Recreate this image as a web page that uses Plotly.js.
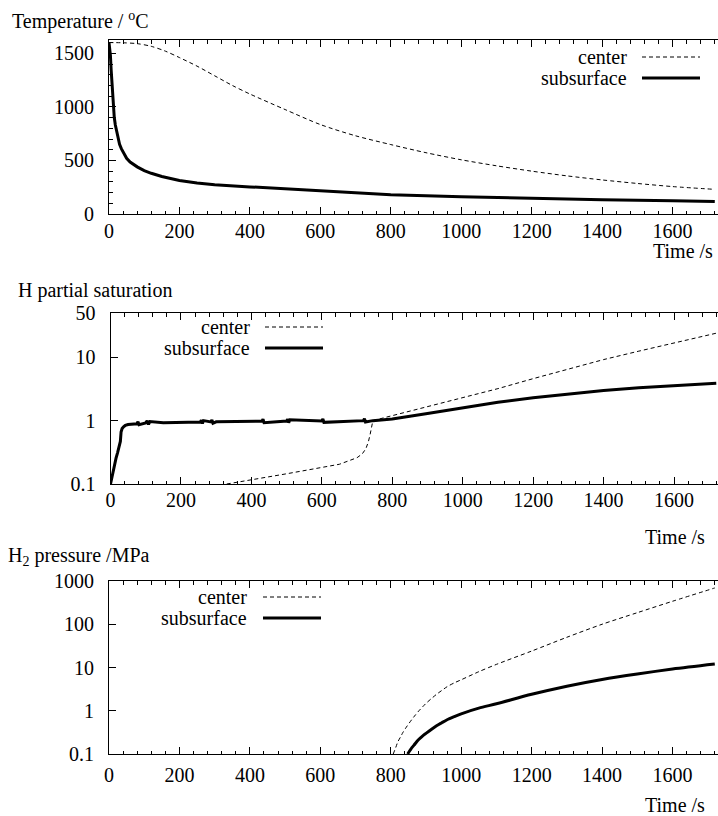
<!DOCTYPE html>
<html>
<head>
<meta charset="utf-8">
<script src="https://cdn.plot.ly/plotly-3.0.1.min.js"></script>
<style>html,body{margin:0;padding:0;background:#fff;}#chart{width:718px;height:816px;}</style>
</head>
<body>
<div id="chart"></div>
<script>
// ---- Data ----
const seriesNames = ["center", "subsurface"];

// Temperature / °C
const tempTimeCenter = [0,40,80,120,160,200,250,300,350,400,500,600,700,800,900,1000,1100,1200,1300,1400,1500,1600,1720];
const tempCenter = [1600,1598,1590,1565,1520,1460,1380,1290,1200,1120,975,835,730,648,572,506,450,400,356,318,285,256,230];
const tempTimeSub = [0,2,4,6,8,10,12,15,18,22,26,30,35,40,50,60,70,80,100,120,150,200,250,300,400,500,600,700,800,1000,1200,1400,1600,1720];
const tempSub = [1600,1550,1480,1350,1220,1100,1000,900,830,760,700,650,610,575,520,485,460,440,405,380,350,313,290,273,253,235,210,196,180,162,146,132,123,117];

// H partial saturation
const hTimeCenter = [330,400,450,500,550,600,650,700,715,725,732,737,741,745,800,900,1000,1100,1200,1300,1400,1500,1600,1720];
const hCenter = [0.1,0.118,0.13,0.145,0.163,0.18,0.205,0.26,0.3,0.36,0.46,0.6,0.78,1.0,1.2,1.65,2.3,3.2,4.6,6.5,9.2,12.5,17,24];
const hTimeSub = [0,4,8,12,16,20,24,26,28,30,33,37,42,50,60,75,78,81,100,104,108,112,150,200,255,258,261,264,285,288,291,300,400,430,433,436,500,503,506,509,600,603,606,700,718,721,724,745,800,900,1000,1100,1200,1300,1400,1500,1600,1720];
const hSub = [0.1,0.13,0.17,0.21,0.26,0.31,0.37,0.4,0.47,0.66,0.75,0.8,0.84,0.87,0.88,0.89,0.96,0.86,0.92,0.99,0.87,0.97,0.93,0.94,0.95,1.02,0.9,1.0,0.955,1.03,0.91,0.96,0.97,0.98,1.05,0.93,0.985,1.05,0.93,1.03,0.99,1.06,0.94,1.0,1.0,1.07,0.95,1.0,1.06,1.3,1.6,1.95,2.3,2.65,2.98,3.3,3.6,3.9];

// H2 pressure / MPa
const pTimeCenter = [807,814,820,828,835,847,860,870,880,890,900,915,930,945,960,980,1000,1050,1100,1200,1300,1400,1500,1600,1720];
const pCenter = [0.1,0.14,0.19,0.25,0.32,0.45,0.63,0.8,1.0,1.22,1.48,1.9,2.4,2.95,3.6,4.4,5.2,8.0,11.8,24,50,100,185,340,690];
const pTimeSub = [848,852,856,860,866,873,880,890,900,915,930,945,960,980,1000,1050,1100,1200,1300,1400,1500,1600,1720];
const pSub = [0.1,0.113,0.126,0.14,0.16,0.19,0.22,0.26,0.3,0.37,0.45,0.53,0.62,0.73,0.85,1.15,1.45,2.4,3.7,5.3,7.1,9.2,12];

// Tick labels
const xTicks = [0,200,400,600,800,1000,1200,1400,1600];
const tempTicks = [0,500,1000,1500];
const hTicks = [0.1,1,10,50];
const hTickText = ["0.1","1","10","50"];
const pTicks = [0.1,1,10,100,1000];
const pTickText = ["0.1","1","10","100","1000"];

// ---- Layout helpers ----
const W = 718, H = 816;
const FONT = '"Liberation Serif", "Times New Roman", serif';
const px = x => x / W;
const py = y => 1 - y / H;

const dashStyle = {color: "#000", width: 1, dash: "4px,3px"};
const solidStyle = {color: "#000", width: 3};
const dashSpline = Object.assign({}, dashStyle, {shape: "spline", smoothing: 0.8});
const solidSpline = Object.assign({}, solidStyle, {shape: "spline", smoothing: 0.8});

const traces = [
  {x: tempTimeCenter, y: tempCenter, xaxis: "x", yaxis: "y", mode: "lines", line: dashSpline, name: seriesNames[0]},
  {x: tempTimeSub, y: tempSub, xaxis: "x", yaxis: "y", mode: "lines", line: solidStyle, name: seriesNames[1]},
  {x: hTimeCenter, y: hCenter, xaxis: "x2", yaxis: "y2", mode: "lines", line: dashStyle, name: seriesNames[0]},
  {x: hTimeSub, y: hSub, xaxis: "x2", yaxis: "y2", mode: "lines", line: solidStyle, name: seriesNames[1]},
  {x: pTimeCenter, y: pCenter, xaxis: "x3", yaxis: "y3", mode: "lines", line: dashSpline, name: seriesNames[0]},
  {x: pTimeSub, y: pSub, xaxis: "x3", yaxis: "y3", mode: "lines", line: solidSpline, name: seriesNames[1]}
];

const tickFont = {family: FONT, size: 20, color: "#000"};
function xAxis(left, anchor, standoff) {
  return {
    domain: [px(left), 1], anchor: anchor, range: [0, (W - left) / 0.3522],
    tickvals: xTicks, ticks: "inside", ticklen: 7, tickwidth: 1, tickcolor: "#000",
    minor: {dtick: 40, tick0: 0, ticks: "inside", ticklen: 3.5, tickcolor: "#000", tickwidth: 1},
    showline: true, linecolor: "#000", linewidth: 1, mirror: "ticks",
    showgrid: false, zeroline: false, tickfont: tickFont, ticklabelstandoff: standoff
  };
}
function yBase(top, bottom, anchor) {
  return {
    domain: [py(bottom), py(top)], anchor: anchor,
    ticks: "inside", ticklen: 7, tickwidth: 1, tickcolor: "#000",
    showline: true, linecolor: "#000", linewidth: 1, mirror: false,
    showgrid: false, zeroline: false, tickfont: tickFont, ticklabelstandoff: 10
  };
}

const layout = {
  width: W, height: H, margin: {l: 0, r: 0, t: 0, b: 0},
  paper_bgcolor: "#fff", plot_bgcolor: "#fff", showlegend: false,
  font: {family: FONT, size: 20, color: "#000"},
  xaxis: xAxis(109, "y", -1),
  yaxis: Object.assign(yBase(40, 214, "x"), {range: [0, 1624], tickvals: tempTicks,
    minor: {dtick: 100, tick0: 0, ticks: "inside", ticklen: 3.5, tickcolor: "#000", tickwidth: 1}}),
  xaxis2: xAxis(110.5, "y2", -2),
  yaxis2: Object.assign(yBase(313, 484, "x2"), {type: "log", range: [-1, Math.log10(50)], tickvals: hTicks, ticktext: hTickText}),
  xaxis3: xAxis(109, "y3", 3),
  yaxis3: Object.assign(yBase(581, 754, "x3"), {type: "log", range: [-1, 3], tickvals: pTicks, ticktext: pTickText}),
  annotations: [],
  shapes: []
};

function addText(text, x, y, xanchor) {
  layout.annotations.push({text: text, xref: "paper", yref: "paper", x: px(x), y: py(y),
    xanchor: xanchor, yanchor: "middle", showarrow: false, font: {family: FONT, size: 20, color: "#000"}});
}
// axis titles
addText("Temperature / <sup>o</sup>C", 10, 20, "left");
addText("Time /s", 715, 251, "right");
addText("H partial saturation", 16, 290, "left");
addText("Time /s", 707, 537, "right");
addText("H<sub>2</sub> pressure /MPa", 6, 556, "left");
addText("Time /s", 707, 805, "right");

// legends (text right-aligned, sample line on the right)
function addLegend(textRight, lineL, lineR, y1, y2) {
  addText(seriesNames[0], textRight, y1, "right");
  addText(seriesNames[1], textRight, y2, "right");
  layout.shapes.push({type: "line", xref: "paper", yref: "paper", x0: px(lineL), x1: px(lineR), y0: py(y1), y1: py(y1), line: dashStyle});
  layout.shapes.push({type: "line", xref: "paper", yref: "paper", x0: px(lineL), x1: px(lineR), y0: py(y2), y1: py(y2), line: solidStyle});
}
addLegend(629, 642, 700, 57, 78);
addLegend(252, 265, 323, 327, 348);
addLegend(249, 263, 321, 597, 618);

Plotly.newPlot("chart", traces, layout, {staticPlot: true, displayModeBar: false});
</script>
</body>
</html>
